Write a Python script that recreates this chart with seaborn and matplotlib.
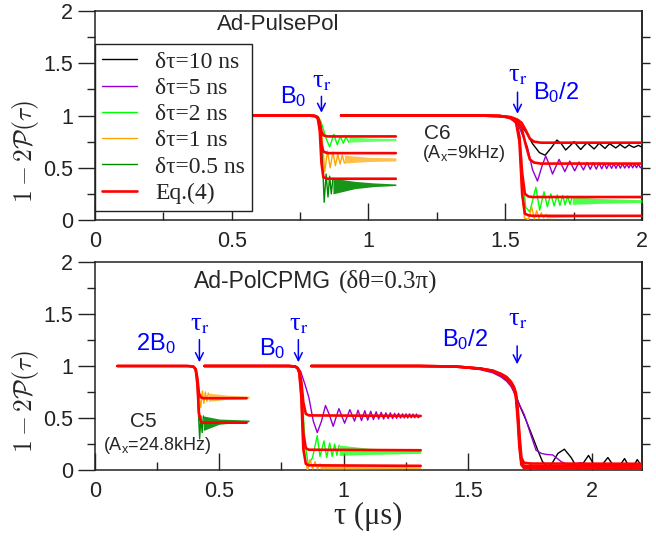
import numpy as np
import matplotlib
matplotlib.use("Agg")
import matplotlib.pyplot as plt
import seaborn as sns
from matplotlib.lines import Line2D
from matplotlib.ticker import MultipleLocator, FixedLocator

# ---------------- colours (xmgrace palette) ----------------
C_BLK = "#000000"
C_VIO = "#9400d3"
C_LIME = "#00ff00"
C_ORNG = "#ffa500"
C_DKG = "#008b00"
C_RED = "#ff0000"
C_BLUE = "#0000ff"

LEGEND_LABELS = ["δτ=10 ns", "δτ=5 ns", "δτ=2 ns", "δτ=1 ns", "δτ=0.5 ns", "Eq.(4)"]

# ================= TOP PANEL (Ad-PulsePol) =================
# resonance B0 (segment 1)
T1_RED_X = [0.50, 0.78, 0.805, 0.815, 0.822, 0.828, 0.835, 0.85, 1.10]
T1_RED_A = [1.0, 1.0, 0.995, 0.98, 0.93, 0.85, 0.81, 0.80, 0.80]
T1_RED_B = [1.0, 1.0, 0.995, 0.975, 0.90, 0.72, 0.655, 0.64, 0.64]
T1_RED_C = [1.0, 1.0, 0.995, 0.97, 0.85, 0.55, 0.41, 0.395, 0.395]

T1_LIME_X = [0.50, 0.80, 0.815, 0.825, 0.835, 0.845, 0.858, 0.866, 0.873, 0.886, 0.897, 0.908, 0.918, 0.928]
T1_LIME_Y = [1.0, 1.0, 0.99, 0.95, 0.87, 0.78, 0.70, 0.76, 0.82, 0.72, 0.80, 0.735, 0.795, 0.745]
T1_LIME_BX = [0.928, 1.0, 1.10]
T1_LIME_HI = [0.795, 0.785, 0.78]
T1_LIME_LO = [0.745, 0.752, 0.76]

T1_ORNG_X = [0.50, 0.80, 0.815, 0.825, 0.832, 0.840, 0.850, 0.860, 0.870, 0.879, 0.888, 0.896, 0.904, 0.912]
T1_ORNG_Y = [1.0, 1.0, 0.99, 0.93, 0.75, 0.46, 0.66, 0.50, 0.65, 0.52, 0.63, 0.535, 0.62, 0.545]
T1_ORNG_BX = [0.912, 1.0, 1.10]
T1_ORNG_HI = [0.62, 0.60, 0.595]
T1_ORNG_LO = [0.545, 0.56, 0.565]

T1_DKG_X = [0.50, 0.80, 0.815, 0.825, 0.832, 0.838, 0.845, 0.852, 0.858, 0.864, 0.870]
T1_DKG_Y = [1.0, 1.0, 0.99, 0.90, 0.55, 0.17, 0.44, 0.22, 0.42, 0.25, 0.40]
T1_DKG_BX = [0.870, 0.95, 1.02, 1.10]
T1_DKG_HI = [0.40, 0.37, 0.355, 0.345]
T1_DKG_LO = [0.25, 0.30, 0.32, 0.33]

# resonance B0/2 (segment 2)
T2_RED_X1 = [0.90, 1.40, 1.48, 1.52, 1.545, 1.56, 1.575, 1.59, 1.605, 1.63, 2.0]
T2_RED_A = [1.0, 1.0, 0.995, 0.985, 0.96, 0.93, 0.86, 0.78, 0.75, 0.74, 0.74]
T2_RED_B = [1.0, 1.0, 0.995, 0.98, 0.95, 0.88, 0.72, 0.58, 0.55, 0.54, 0.54]
T2_RED_X2 = [0.90, 1.40, 1.48, 1.52, 1.54, 1.552, 1.562, 1.572, 1.585, 1.60, 2.0]
T2_RED_C = [1.0, 1.0, 0.995, 0.98, 0.94, 0.80, 0.45, 0.25, 0.225, 0.22, 0.22]
T2_RED_D = [1.0, 1.0, 0.995, 0.98, 0.93, 0.75, 0.25, 0.06, 0.045, 0.04, 0.04]

T2_BLK_X = [0.90, 1.40, 1.50, 1.54, 1.575, 1.60, 1.625, 1.646, 1.668, 1.689,
            1.705, 1.721, 1.737, 1.752, 1.764, 1.776, 1.788, 1.800, 1.812, 1.825,
            1.834, 1.843, 1.854, 1.865, 1.874, 1.882, 1.893, 1.904, 1.912, 1.920,
            1.929, 1.938, 1.946, 1.953, 1.962, 1.971, 1.979, 1.987, 1.994, 2.0]
T2_BLK_Y = [1.0, 1.0, 0.99, 0.95, 0.845, 0.73, 0.645, 0.62, 0.69, 0.765,
            0.73, 0.67, 0.71, 0.75, 0.71, 0.675, 0.71, 0.74, 0.71, 0.68,
            0.705, 0.735, 0.71, 0.685, 0.71, 0.73, 0.71, 0.69, 0.705, 0.725,
            0.705, 0.69, 0.705, 0.72, 0.705, 0.695, 0.705, 0.715, 0.705, 0.70]

T2_VIO_X = [0.90, 1.40, 1.50, 1.545, 1.565, 1.581, 1.60, 1.618, 1.635, 1.648,
            1.661, 1.673, 1.685, 1.697, 1.718, 1.736, 1.754, 1.770, 1.786, 1.799,
            1.811, 1.822, 1.833, 1.843, 1.853, 1.862, 1.871, 1.880, 1.889, 1.897,
            1.905, 1.913, 1.921, 1.929, 1.937, 1.945, 1.952, 1.959, 1.966, 1.973,
            1.980, 1.987, 1.994, 2.0]
T2_VIO_Y = [1.0, 1.0, 0.99, 0.93, 0.80, 0.70, 0.48, 0.373, 0.52, 0.612,
            0.53, 0.44, 0.51, 0.58, 0.463, 0.564, 0.47, 0.555, 0.479, 0.55,
            0.485, 0.548, 0.487, 0.545, 0.49, 0.543, 0.492, 0.54, 0.494, 0.539,
            0.495, 0.538, 0.496, 0.537, 0.497, 0.536, 0.498, 0.535, 0.499, 0.534,
            0.50, 0.533, 0.50, 0.515]

T2_LIME_X = [0.90, 1.40, 1.50, 1.54, 1.552, 1.562, 1.575, 1.59, 1.612, 1.626,
             1.642, 1.654, 1.667, 1.679, 1.690, 1.700, 1.710, 1.719, 1.728, 1.737, 1.745]
T2_LIME_Y = [1.0, 1.0, 0.99, 0.95, 0.80, 0.45, 0.12, 0.08, 0.313, 0.095,
             0.27, 0.127, 0.25, 0.134, 0.24, 0.14, 0.235, 0.145, 0.23, 0.15, 0.225]
T2_LIME_BX = [1.745, 1.85, 2.0]
T2_LIME_HI = [0.225, 0.205, 0.195]
T2_LIME_LO = [0.15, 0.16, 0.168]

T2_ORNG_X = [0.90, 1.40, 1.50, 1.54, 1.552, 1.560, 1.570, 1.585, 1.597, 1.606, 1.615, 1.623, 1.632, 1.640, 1.650]
T2_ORNG_Y = [1.0, 1.0, 0.99, 0.94, 0.75, 0.30, 0.02, 0.005, 0.127, 0.01, 0.09, 0.015, 0.07, 0.02, 0.055]
T2_ORNG_BX = [1.65, 1.75, 2.0]
T2_ORNG_HI = [0.055, 0.045, 0.04]
T2_ORNG_LO = [0.02, 0.03, 0.035]

# ================= BOTTOM PANEL (Ad-PolCPMG) =================
B1_RED_X = [0.09, 0.37, 0.395, 0.405, 0.412, 0.418, 0.425, 0.435, 0.61]
B1_RED_A = [1.0, 1.0, 0.995, 0.97, 0.88, 0.74, 0.70, 0.69, 0.69]
B1_RED_B = [1.0, 1.0, 0.995, 0.97, 0.82, 0.55, 0.47, 0.455, 0.455]

B1_ORNG_X = [0.09, 0.38, 0.40, 0.41, 0.418, 0.425, 0.432, 0.438, 0.444, 0.450, 0.456]
B1_ORNG_Y = [1.0, 1.0, 0.99, 0.93, 0.72, 0.60, 0.76, 0.64, 0.75, 0.66, 0.74]
B1_ORNG_BX = [0.456, 0.53, 0.62]
B1_ORNG_HI = [0.74, 0.72, 0.71]
B1_ORNG_LO = [0.66, 0.68, 0.69]

B1_DKG_X = [0.09, 0.38, 0.40, 0.41, 0.416, 0.421, 0.426, 0.431, 0.436]
B1_DKG_Y = [1.0, 1.0, 0.99, 0.90, 0.55, 0.30, 0.52, 0.36, 0.52]
B1_DKG_BX = [0.436, 0.50, 0.62]
B1_DKG_HI = [0.52, 0.49, 0.48]
B1_DKG_LO = [0.38, 0.44, 0.465]

B2_RED_X = [0.44, 0.78, 0.805, 0.815, 0.822, 0.83, 0.838, 0.848, 0.86, 1.31]
B2_RED_A = [1.0, 1.0, 0.995, 0.98, 0.95, 0.85, 0.65, 0.54, 0.525, 0.52]
B2_RED_B = [1.0, 1.0, 0.995, 0.98, 0.94, 0.75, 0.35, 0.21, 0.195, 0.19]
B2_RED_C = [1.0, 1.0, 0.995, 0.98, 0.93, 0.70, 0.20, 0.06, 0.045, 0.04]

B2_VIO_X = [0.44, 0.78, 0.81, 0.827, 0.845, 0.86, 0.878, 0.894, 0.911, 0.927,
            0.943, 0.958, 0.981, 1.004, 1.025, 1.044, 1.058, 1.072, 1.085, 1.097,
            1.109, 1.120, 1.131, 1.141, 1.151, 1.161, 1.170, 1.179, 1.188, 1.197,
            1.205, 1.213, 1.221, 1.229, 1.237, 1.244, 1.251, 1.258, 1.265, 1.272,
            1.279, 1.286, 1.293, 1.300, 1.307]
B2_VIO_Y = [1.0, 1.0, 0.99, 0.95, 0.82, 0.70, 0.47, 0.36, 0.47, 0.62,
            0.53, 0.42, 0.59, 0.45, 0.58, 0.47, 0.575, 0.475, 0.57, 0.48,
            0.565, 0.485, 0.56, 0.49, 0.555, 0.49, 0.55, 0.495, 0.55, 0.495,
            0.545, 0.497, 0.545, 0.50, 0.54, 0.50, 0.54, 0.50, 0.54, 0.502,
            0.538, 0.502, 0.538, 0.503, 0.52]

B2_LIME_X = [0.44, 0.78, 0.81, 0.825, 0.835, 0.845, 0.858, 0.875, 0.894, 0.905,
             0.921, 0.932, 0.944, 0.954, 0.964, 0.973, 0.982]
B2_LIME_Y = [1.0, 1.0, 0.99, 0.93, 0.65, 0.25, 0.05, 0.12, 0.33, 0.13,
             0.28, 0.12, 0.26, 0.13, 0.25, 0.14, 0.24]
B2_LIME_BX = [0.982, 1.10, 1.31]
B2_LIME_HI = [0.24, 0.21, 0.19]
B2_LIME_LO = [0.14, 0.15, 0.16]

B2_ORNG_X = [0.44, 0.78, 0.81, 0.825, 0.835, 0.845, 0.855, 0.865, 0.875, 0.885, 0.895, 0.905]
B2_ORNG_Y = [1.0, 1.0, 0.99, 0.93, 0.55, 0.10, 0.0, 0.10, 0.01, 0.08, 0.01, 0.06]
B2_ORNG_BX = [0.905, 1.05, 1.31]
B2_ORNG_HI = [0.06, 0.04, 0.03]
B2_ORNG_LO = [0.01, 0.01, 0.015]

B3_RED_X = [0.87, 1.30, 1.45, 1.55, 1.60, 1.633, 1.655, 1.673, 1.685, 1.693, 1.70, 1.707, 1.715, 1.725, 1.75, 2.2]
B3_RED_A = [1.0, 1.0, 0.995, 0.975, 0.955, 0.925, 0.895, 0.85, 0.80, 0.74, 0.60, 0.35, 0.12, 0.07, 0.062, 0.06]
B3_RED_B = [1.0, 1.0, 0.995, 0.975, 0.955, 0.92, 0.89, 0.84, 0.79, 0.72, 0.55, 0.28, 0.08, 0.04, 0.036, 0.035]
B3_RED_C = [1.0, 1.0, 0.995, 0.975, 0.95, 0.915, 0.88, 0.83, 0.78, 0.70, 0.50, 0.22, 0.05, 0.02, 0.016, 0.015]

B3_BLK_X = [0.87, 1.30, 1.45, 1.55, 1.60, 1.633, 1.655, 1.673, 1.693, 1.707,
            1.73, 1.755, 1.781, 1.80, 1.821, 1.84, 1.862, 1.888, 1.915, 1.942,
            1.962, 1.985, 2.005, 2.023, 2.043, 2.063, 2.08, 2.097, 2.113, 2.130,
            2.144, 2.157, 2.169, 2.181, 2.195, 2.21]
B3_BLK_Y = [1.0, 1.0, 0.995, 0.97, 0.945, 0.905, 0.87, 0.82, 0.72, 0.625,
            0.50, 0.35, 0.19, 0.08, 0.03, 0.07, 0.16, 0.20, 0.12, 0.01,
            0.06, 0.14, 0.06, 0.01, 0.06, 0.12, 0.06, 0.01, 0.05, 0.11,
            0.05, 0.01, 0.05, 0.10, 0.05, 0.025]

B3_VIO_X = [0.87, 1.30, 1.45, 1.55, 1.60, 1.633, 1.655, 1.673, 1.687, 1.705,
            1.727, 1.75, 1.774, 1.795, 1.815, 1.841, 1.86, 1.875, 1.895, 1.915,
            1.935, 1.955, 1.975, 2.0, 2.03, 2.06, 2.09, 2.12, 2.15, 2.18, 2.2]
B3_VIO_Y = [1.0, 1.0, 0.995, 0.965, 0.935, 0.895, 0.855, 0.805, 0.74, 0.64,
            0.53, 0.36, 0.19, 0.16, 0.15, 0.145, 0.11, 0.08, 0.06, 0.05,
            0.06, 0.07, 0.055, 0.04, 0.05, 0.035, 0.045, 0.03, 0.04, 0.03, 0.035]

Y_TICKS = [0, 0.5, 1, 1.5, 2]
Y_TICKLABELS = ["0", "0.5", "1", "1.5", "2"]
X_TICKS = [0, 0.5, 1, 1.5, 2]
X_TICKLABELS = ["0", "0.5", "1", "1.5", "2"]

# ---------------- style ----------------
sns.set_theme(style="ticks")
plt.rcParams.update({
    "font.family": ["Liberation Sans", "DejaVu Sans"],
    "mathtext.fontset": "custom",
    "mathtext.rm": "Liberation Sans",
    "mathtext.it": "Liberation Sans:italic",
    "mathtext.bf": "Liberation Sans:bold",
    "axes.linewidth": 1.1,
    "axes.edgecolor": "#222222",
    "xtick.color": "#222222",
    "ytick.color": "#222222",
})

fig = plt.figure(figsize=(6.56, 5.39), dpi=100)
ax1 = fig.add_axes([0.1448, 0.5918, 0.8338, 0.3878])
ax2 = fig.add_axes([0.1448, 0.1280, 0.8338, 0.3859])

LW_C = 1.0
LW_R = 1.9


def line(ax, x, y, color, lw=LW_C, z=3):
    sns.lineplot(x=x, y=y, ax=ax, color=color, linewidth=lw, estimator=None,
                 sort=False, zorder=z, legend=False)


def band(ax, x, lo, hi, color, alpha):
    ax.fill_between(x, lo, hi, color=color, alpha=alpha, lw=0, zorder=2.9)


# ---- top panel ----
line(ax1, T1_LIME_X, T1_LIME_Y, C_LIME)
band(ax1, T1_LIME_BX, T1_LIME_LO, T1_LIME_HI, C_LIME, 0.6)
line(ax1, T1_ORNG_X, T1_ORNG_Y, C_ORNG)
band(ax1, T1_ORNG_BX, T1_ORNG_LO, T1_ORNG_HI, C_ORNG, 0.7)
line(ax1, T1_DKG_X, T1_DKG_Y, C_DKG)
band(ax1, T1_DKG_BX, T1_DKG_LO, T1_DKG_HI, C_DKG, 0.9)
for ry in (T1_RED_A, T1_RED_B, T1_RED_C):
    line(ax1, T1_RED_X, ry, C_RED, LW_R, 4)

line(ax1, T2_BLK_X, T2_BLK_Y, C_BLK)
line(ax1, T2_VIO_X, T2_VIO_Y, C_VIO)
line(ax1, T2_LIME_X, T2_LIME_Y, C_LIME)
band(ax1, T2_LIME_BX, T2_LIME_LO, T2_LIME_HI, C_LIME, 0.7)
line(ax1, T2_ORNG_X, T2_ORNG_Y, C_ORNG)
band(ax1, T2_ORNG_BX, T2_ORNG_LO, T2_ORNG_HI, C_ORNG, 0.8)
for ry in (T2_RED_A, T2_RED_B):
    line(ax1, T2_RED_X1, ry, C_RED, LW_R, 4)
for ry in (T2_RED_C, T2_RED_D):
    line(ax1, T2_RED_X2, ry, C_RED, LW_R, 4)

# ---- bottom panel ----
line(ax2, B1_ORNG_X, B1_ORNG_Y, C_ORNG)
band(ax2, B1_ORNG_BX, B1_ORNG_LO, B1_ORNG_HI, C_ORNG, 0.7)
line(ax2, B1_DKG_X, B1_DKG_Y, C_DKG)
band(ax2, B1_DKG_BX, B1_DKG_LO, B1_DKG_HI, C_DKG, 0.9)
for ry in (B1_RED_A, B1_RED_B):
    line(ax2, B1_RED_X, ry, C_RED, LW_R, 4)

line(ax2, B2_VIO_X, B2_VIO_Y, C_VIO)
line(ax2, B2_LIME_X, B2_LIME_Y, C_LIME)
band(ax2, B2_LIME_BX, B2_LIME_LO, B2_LIME_HI, C_LIME, 0.7)
line(ax2, B2_ORNG_X, B2_ORNG_Y, C_ORNG)
band(ax2, B2_ORNG_BX, B2_ORNG_LO, B2_ORNG_HI, C_ORNG, 0.8)
for ry in (B2_RED_A, B2_RED_B, B2_RED_C):
    line(ax2, B2_RED_X, ry, C_RED, LW_R, 4)

line(ax2, B3_BLK_X, B3_BLK_Y, C_BLK)
line(ax2, B3_VIO_X, B3_VIO_Y, C_VIO)
for ry in (B3_RED_A, B3_RED_B, B3_RED_C):
    line(ax2, B3_RED_X, ry, C_RED, LW_R, 4)

# ---------------- axes cosmetics ----------------
for ax, xmax in ((ax1, 2.0), (ax2, 2.2)):
    ax.set_xlim(0, xmax)
    ax.set_ylim(0, 2)
    ax.set_xticks(X_TICKS)
    ax.set_xticklabels(X_TICKLABELS)
    ax.set_yticks(Y_TICKS)
    ax.set_yticklabels(Y_TICKLABELS)
    ax.xaxis.set_minor_locator(MultipleLocator(0.25))
    ax.yaxis.set_minor_locator(MultipleLocator(0.25))
    ax.tick_params(axis="x", which="major", direction="in", length=12, width=1.0,
                   labelsize=15.5, pad=8, top=False)
    ax.tick_params(axis="x", which="minor", direction="in", length=6, width=1.0, top=False)
    ax.tick_params(axis="y", which="major", direction="out", length=12, width=1.0,
                   labelsize=15.5, pad=4, right=False)
    ax.tick_params(axis="y", which="minor", direction="out", length=6, width=1.0, right=False)
    sec = ax.secondary_yaxis("right")
    sec.yaxis.set_major_locator(FixedLocator([0.25, 0.5, 0.75, 1.0, 1.25, 1.5, 1.75]))
    sec.yaxis.set_minor_locator(FixedLocator([]))
    sec.tick_params(axis="y", direction="out", length=6, width=1.0, labelright=False)
    sec.set_yticklabels([])
    ax.set_ylabel(r"$1-2\mathcal{P}(\tau)$", fontsize=18.5, math_fontfamily="cm")
    ax.yaxis.set_label_coords(-0.098, 0.33)
    ax.set_xlabel("")

ax2.set_xlabel("τ (μs)", fontsize=22, family="Liberation Serif", labelpad=0)

# legend
handles = [Line2D([], [], color=c, lw=LW_C) for c in (C_BLK, C_VIO, C_LIME, C_ORNG, C_DKG)]
handles.append(Line2D([], [], color=C_RED, lw=LW_R))
leg = ax1.legend(handles, LEGEND_LABELS, loc="upper left", bbox_to_anchor=(0.0, 0.842),
                 borderaxespad=0, frameon=True, fancybox=False, framealpha=1,
                 edgecolor="#222222", prop={"family": "Liberation Serif", "size": 17},
                 handlelength=1.5, handletextpad=0.75, labelspacing=0.2, borderpad=0.3)
leg.get_frame().set_linewidth(1.0)
leg.set_zorder(10)

# ---------------- annotations ----------------
def tau_arrow(ax, x, y0, y1, ylab):
    ax.annotate("", xy=(x, y1), xytext=(x, y0),
                arrowprops=dict(arrowstyle="->", color=C_BLUE, lw=1.1, mutation_scale=14),
                zorder=6)
    ax.text(x, ylab, r"τ$_\mathrm{r}$", color=C_BLUE, fontsize=19, ha="center", va="bottom",
            family="Liberation Serif", math_fontfamily="stix", zorder=6)


ax1.text(0.445, 1.87, "Ad-PulsePol", fontsize=16, ha="left", va="center")
ax1.text(0.725, 1.18, r"B$_\mathrm{0}$", fontsize=17, color=C_BLUE, ha="center", va="center")
tau_arrow(ax1, 0.828, 1.21, 1.0, 1.22)
tau_arrow(ax1, 1.545, 1.25, 0.99, 1.27)
ax1.text(1.685, 1.22, r"B$_\mathrm{0}$/2", fontsize=17, color=C_BLUE, ha="center", va="center")
ax1.text(1.252, 0.83, "C6", fontsize=15, ha="center", va="center")
ax1.text(1.35, 0.64, r"(A$_\mathrm{x}$=9kHz)", fontsize=13, ha="center", va="center")

ax2.text(0.40, 1.81, "Ad-PolCPMG", fontsize=16.5, ha="left", va="center")
ax2.text(0.98, 1.81, "(δθ=0.3π)", fontsize=18, ha="left", va="center", family="Liberation Serif")
ax2.text(0.245, 1.22, r"2B$_\mathrm{0}$", fontsize=17, color=C_BLUE, ha="center", va="center")
tau_arrow(ax2, 0.42, 1.28, 1.01, 1.29)
ax2.text(0.713, 1.17, r"B$_\mathrm{0}$", fontsize=17, color=C_BLUE, ha="center", va="center")
tau_arrow(ax2, 0.818, 1.28, 1.01, 1.29)
ax2.text(1.49, 1.25, r"B$_\mathrm{0}$/2", fontsize=17, color=C_BLUE, ha="center", va="center")
tau_arrow(ax2, 1.698, 1.22, 0.99, 1.34)
ax2.text(0.194, 0.47, "C5", fontsize=15, ha="center", va="center")
ax2.text(0.25, 0.24, r"(A$_\mathrm{x}$=24.8kHz)", fontsize=13, ha="center", va="center")

fig.savefig("out.png", dpi=100)
